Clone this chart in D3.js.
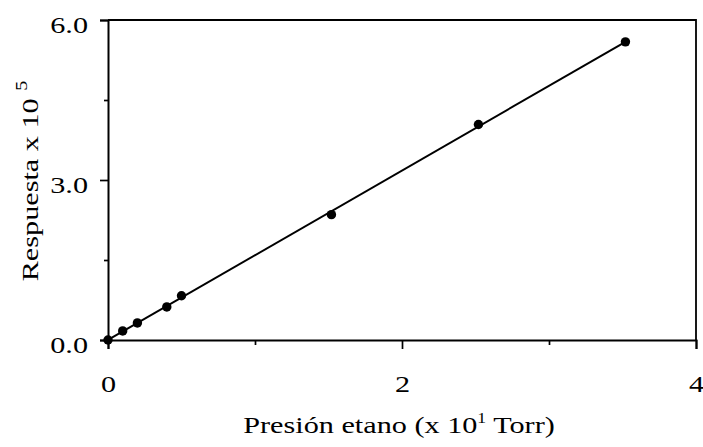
<!DOCTYPE html>
<html>
<head>
<meta charset="utf-8">
<script src="https://cdn.jsdelivr.net/npm/d3@7"></script>
<style>
  html, body { margin: 0; padding: 0; background: #fff; }
  svg { display: block; }
  text { font-family: "Liberation Serif", "DejaVu Serif", serif; fill: #000; }
</style>
</head>
<body>
<svg id="chart" width="703" height="447"></svg>
<script>
// Ethane pressure (x 10^1 Torr) and detector response (x 10^5)
const pressure = [0, 0.1, 0.2, 0.4, 0.5, 1.52, 2.52, 3.52];
const response = [0, 0.17, 0.32, 0.62, 0.83, 2.35, 4.04, 5.59];

const xMajorTicks = [0, 2, 4];
const xMinorTicks = [1, 3];
const yMajorTicks = [0, 3, 6];
const yMinorTicks = [1.5, 4.5];

const svg = d3.select("#chart");
const margin = { left: 108, right: 7, top: 20, bottom: 107 };
const W = 703, H = 447;
const stretch = 1.26;   // wide letterforms used throughout the figure

const x = d3.scaleLinear().domain([0, 4]).range([margin.left, W - margin.right]);
const y = d3.scaleLinear().domain([0, 6]).range([H - margin.bottom, margin.top]);

// least-squares fit through the measured points
const n = pressure.length;
const mx = d3.mean(pressure), my = d3.mean(response);
let sxy = 0, sxx = 0;
for (let i = 0; i < n; i++) {
  sxy += (pressure[i] - mx) * (response[i] - my);
  sxx += (pressure[i] - mx) ** 2;
}
const slope = sxy / sxx;
const intercept = my - slope * mx;
const xFitEnd = d3.max(pressure);

// frame (top and right edges)
svg.append("path")
  .attr("d", `M${x(0)},${y(6)}H${x(4)}V${y(0)}`)
  .attr("fill", "none").attr("stroke", "#000").attr("stroke-width", 1.8);

// x axis
const xAxis = svg.append("g").attr("transform", `translate(0,${y(0)})`);
xAxis.call(d3.axisBottom(x).tickValues(xMajorTicks).tickSize(9).tickPadding(26).tickFormat(d3.format("d")));
xAxis.append("g").call(d3.axisBottom(x).tickValues(xMinorTicks).tickSize(5).tickFormat(""))
  .select(".domain").remove();

// y axis
const yAxis = svg.append("g").attr("transform", `translate(${x(0)},0)`);
yAxis.call(d3.axisLeft(y).tickValues(yMajorTicks).tickSize(8).tickPadding(12).tickFormat(d3.format(".1f")));
yAxis.append("g").call(d3.axisLeft(y).tickValues(yMinorTicks).tickSize(4).tickFormat(""))
  .select(".domain").remove();

svg.selectAll(".domain").attr("stroke-width", 2);
svg.selectAll(".tick line").attr("stroke-width", 1.7);
svg.selectAll(".tick text")
  .style("font-family", "'Liberation Serif', serif")
  .style("font-size", "24px")
  .attr("transform", `scale(${stretch},1)`);
xAxis.selectAll(".tick text").attr("y", 35);
yAxis.selectAll(".tick text").attr("x", -20 / stretch).attr("dy", "0.5em");

// fitted line
svg.append("line")
  .attr("x1", x(0)).attr("y1", y(intercept))
  .attr("x2", x(xFitEnd)).attr("y2", y(intercept + slope * xFitEnd))
  .attr("stroke", "#000").attr("stroke-width", 2);

// data points
svg.selectAll("circle.pt")
  .data(pressure.map((p, i) => [p, response[i]]))
  .join("circle")
  .attr("class", "pt")
  .attr("cx", d => x(d[0])).attr("cy", d => y(d[1]))
  .attr("r", 4.7).attr("fill", "#000");

// axis titles
const xt = svg.append("text")
  .attr("transform", `translate(399,433) scale(${stretch},1)`)
  .attr("text-anchor", "middle").style("font-size", "24px");
xt.append("tspan").text("Presión etano (x 10");
xt.append("tspan").text("1").style("font-size", "14px").attr("dy", -10);
xt.append("tspan").text(" Torr)").attr("dy", 10);

const yt = svg.append("text")
  .attr("transform", `translate(38,181) rotate(-90) scale(${stretch},1)`)
  .attr("text-anchor", "middle").style("font-size", "24px");
yt.append("tspan").text("Respuesta x 10 ");
yt.append("tspan").text("5").style("font-size", "16px").attr("dy", -11);
</script>
</body>
</html>
